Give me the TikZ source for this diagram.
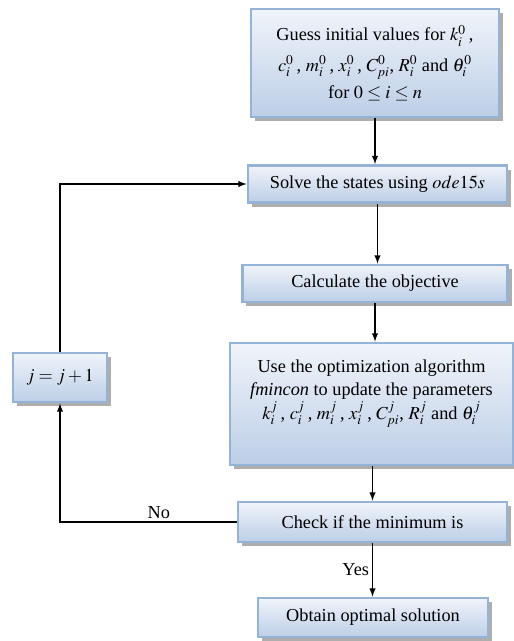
\documentclass[tikz,border=0pt]{standalone}
\usepackage{mathptmx}
\usepackage{fontspec}
\setmainfont{Liberation Serif}
\usetikzlibrary{shadows}

\definecolor{boxline}{RGB}{149,179,215}
\definecolor{boxtop}{RGB}{240,244,250}
\definecolor{boxbot}{RGB}{188,206,231}

\begin{document}
\begin{tikzpicture}[
    x=0.025cm, y=-0.025cm,
    box/.style={rectangle, draw=boxline, line width=2pt, top color=boxtop, bottom color=boxbot,
        align=center, inner sep=2pt, font=\fontsize{13}{16.5}\selectfont,
        drop shadow={shadow xshift=0.1cm, shadow yshift=-0.1cm, fill=black!45, opacity=0.7}},
    arrow/.style={draw, line width=1pt, -latex},
    tag/.style={font=\fontsize{13}{16}\selectfont, inner sep=2pt}
]
\useasboundingbox (0,0) rectangle (514,641);

% Define boxes
\node[box, minimum width=6.2cm, minimum height=2.7cm] (guess) at (375,63)
    {Guess initial values for $k_i^0$\,,\\[5pt]
     $c_i^0$\,, $m_i^0$\,, $x_i^0$\,, $C_{pi}^0$, $R_i^0$ and $\theta_i^0$\\[3pt]
     for $0\le i\le n$};
\node[box, minimum width=6.475cm, minimum height=0.925cm] (solve) at (377.5,184)
    {Solve the states using $ode15s$};
\node[box, minimum width=6.625cm, minimum height=0.925cm] (calc) at (375,283.5)
    {Calculate the objective};
\node[box, minimum width=7.075cm, minimum height=3.05cm] (update) at (371.5,404)
    {Use the optimization algorithm\\
     \textit{fmincon} to update the parameters\\
     $k_i^j$\,, $c_i^j$\,, $m_i^j$\,, $x_i^j$\,, $C_{pi}^j$, $R_i^j$ and $\theta_i^j$\\[4pt]~};
\node[box, minimum width=6.725cm, minimum height=1.0cm] (check) at (372.5,522)
    {Check if the minimum is};
\node[box, minimum width=5.75cm, minimum height=0.975cm] (optimal) at (373,617.5)
    {Obtain optimal solution};
\node[box, minimum width=2.35cm, minimum height=1.225cm] (incr) at (60,377.5)
    {$j=j+1$};

% Define connectors
\path[arrow] (guess.south) -- (guess.south |- solve.north);
\path[arrow] (solve.south) -- (solve.south |- calc.north);
\path[arrow] (calc.south) -- (calc.south |- update.north);
\path[arrow] (check.north |- update.south) -- (check.north);
\path[arrow] (check.south) -- node[tag, left] {Yes} (check.south |- optimal.north);
\path[arrow] (check.west) -| node[tag, above, pos=0.22] {No} (incr.south);
\path[arrow] (incr.north) |- (solve.west);

\end{tikzpicture}
\end{document}
